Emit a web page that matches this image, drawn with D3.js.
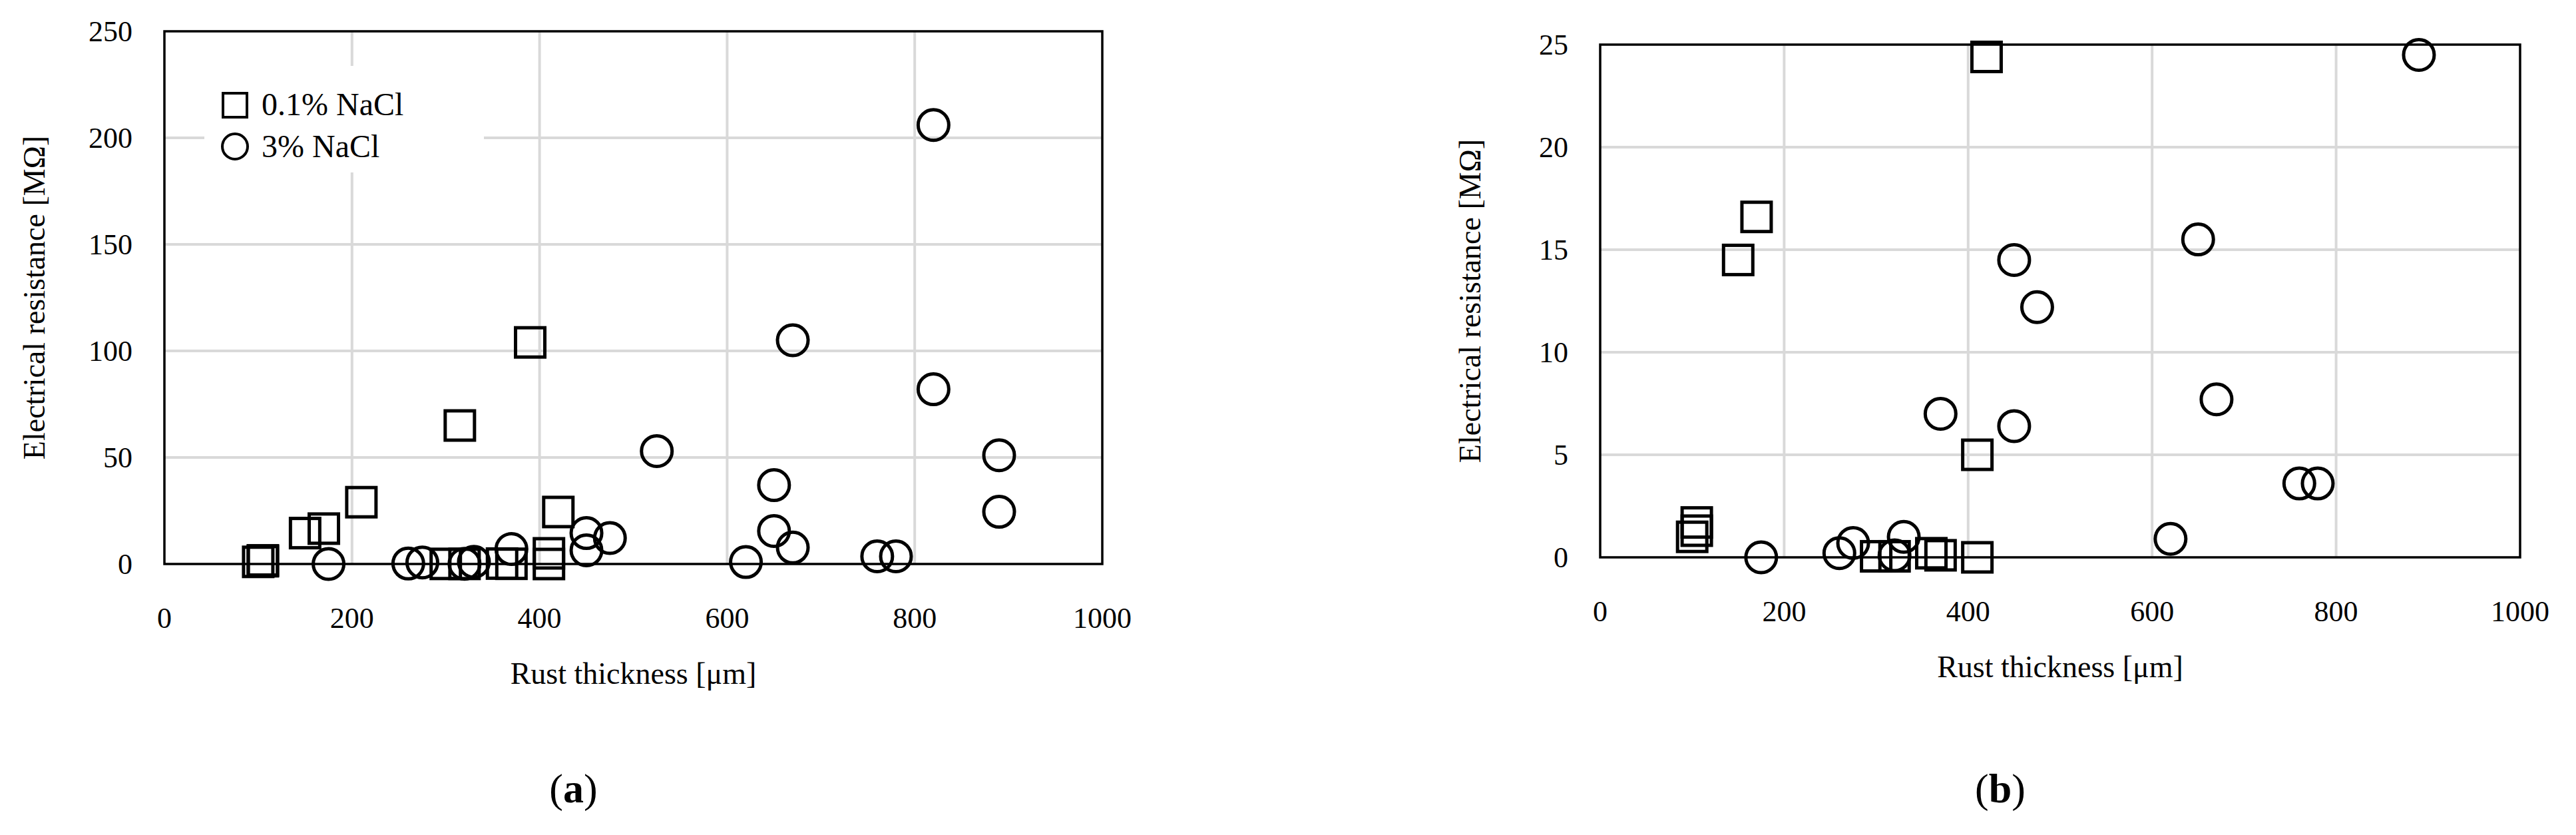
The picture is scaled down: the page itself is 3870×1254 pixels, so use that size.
<!DOCTYPE html>
<html><head><meta charset="utf-8">
<script src="https://cdn.jsdelivr.net/npm/d3@7"></script>
<style>body{margin:0;background:#fff}text{font-family:"Liberation Serif",serif;fill:#000}</style>
</head><body>
<svg id="chart" width="3870" height="1254"></svg>
<script>
// 0.1% NaCl (squares)
const sqX = [100, 105, 105, 150, 170, 210, 300, 315, 320, 360, 370, 390, 410, 410, 420];
const sqY = [1.0, 1.7, 1.3, 14.5, 16.6, 29, 0.05, 65, 0.05, 0.2, 0.1, 104, 5.0, 0.0, 24.4];
// 3% NaCl (circles)
const ciX = [175, 260, 275, 320, 330, 370, 450, 450, 475, 525, 620, 650, 650, 670, 670, 760, 780, 820, 820, 890, 890];
const ciY = [0.0, 0.2, 0.7, 0.1, 1.0, 7.0, 14.5, 6.4, 12.2, 53, 0.9, 37, 15.5, 105, 7.7, 3.6, 3.6, 206, 82, 51, 24.5];
const xTicks = [0, 200, 400, 600, 800, 1000];
const yTicksA = [0, 50, 100, 150, 200, 250];
const yTicksB = [0, 5, 10, 15, 20, 25];

const svg = d3.select("#chart");
const squares = sqX.map((x, i) => ({x, y: sqY[i]}));
const circles = ciX.map((x, i) => ({x, y: ciY[i]}));

function panel(box, ymax, yTicks, label, legend) {
  const g = svg.append("g");
  const x = d3.scaleLinear().domain([0, 1000]).range([box.l, box.r]);
  const y = d3.scaleLinear().domain([0, ymax]).range([box.b, box.t]);

  g.selectAll(".gx").data(xTicks.slice(1, -1)).join("line")
    .attr("x1", d => x(d)).attr("x2", d => x(d)).attr("y1", box.t).attr("y2", box.b)
    .attr("stroke", "#d9d9d9").attr("stroke-width", 4);
  g.selectAll(".gy").data(yTicks.slice(1, -1)).join("line")
    .attr("y1", d => y(d)).attr("y2", d => y(d)).attr("x1", box.l).attr("x2", box.r)
    .attr("stroke", "#d9d9d9").attr("stroke-width", 4);

  if (legend) {
    g.append("rect").attr("x", box.l + 60).attr("y", box.t + 52).attr("width", 420).attr("height", 160).attr("fill", "#fff");
  }

  g.append("rect").attr("x", box.l).attr("y", box.t).attr("width", box.r - box.l).attr("height", box.b - box.t)
    .attr("fill", "none").attr("stroke", "#000").attr("stroke-width", 3.5);

  g.selectAll(".xt").data(xTicks).join("text")
    .attr("x", d => x(d)).attr("y", box.b + 96).attr("text-anchor", "middle")
    .attr("font-size", 44).text(d => d);
  g.selectAll(".yt").data(yTicks).join("text")
    .attr("x", box.l - 48).attr("y", d => y(d) + 15).attr("text-anchor", "end")
    .attr("font-size", 44).text(d => d);

  g.append("text").attr("x", (box.l + box.r) / 2).attr("y", box.b + 180).attr("text-anchor", "middle")
    .attr("font-size", 46).text("Rust thickness [μm]");
  g.append("text").attr("transform", `translate(${box.l - 180},${(box.t + box.b) / 2}) rotate(-90)`)
    .attr("text-anchor", "middle").attr("font-size", 46).text("Electrical resistance [MΩ]");
  g.append("text").attr("x", (box.l + box.r) / 2 - 90).attr("y", 1205).attr("text-anchor", "middle")
    .attr("font-size", 62).html(`(<tspan font-weight="bold">${label}</tspan>)`);

  const vis = d => d.y <= ymax * 1.01;
  const s = 44;
  g.selectAll(".sq").data(squares.filter(vis)).join("rect")
    .attr("x", d => x(d.x) - s / 2).attr("y", d => y(d.y) - s / 2).attr("width", s).attr("height", s)
    .attr("fill", "none").attr("stroke", "#000").attr("stroke-width", 5);
  g.selectAll(".ci").data(circles.filter(vis)).join("circle")
    .attr("cx", d => x(d.x)).attr("cy", d => y(d.y)).attr("r", 23)
    .attr("fill", "none").attr("stroke", "#000").attr("stroke-width", 5);

  if (legend) {
    const lx = box.l + 106;
    g.append("rect").attr("x", lx - 18).attr("y", box.t + 93).attr("width", 36).attr("height", 36)
      .attr("fill", "none").attr("stroke", "#000").attr("stroke-width", 4);
    g.append("text").attr("x", lx + 40).attr("y", box.t + 126).attr("font-size", 48).text("0.1% NaCl");
    g.append("circle").attr("cx", lx).attr("cy", box.t + 173).attr("r", 19)
      .attr("fill", "none").attr("stroke", "#000").attr("stroke-width", 4);
    g.append("text").attr("x", lx + 40).attr("y", box.t + 189).attr("font-size", 48).text("3% NaCl");
  }
}

panel({l: 247, r: 1656, t: 47, b: 847}, 250, yTicksA, "a", true);
panel({l: 2404, r: 3786, t: 67, b: 837}, 25, yTicksB, "b", false);
</script>
</body></html>
